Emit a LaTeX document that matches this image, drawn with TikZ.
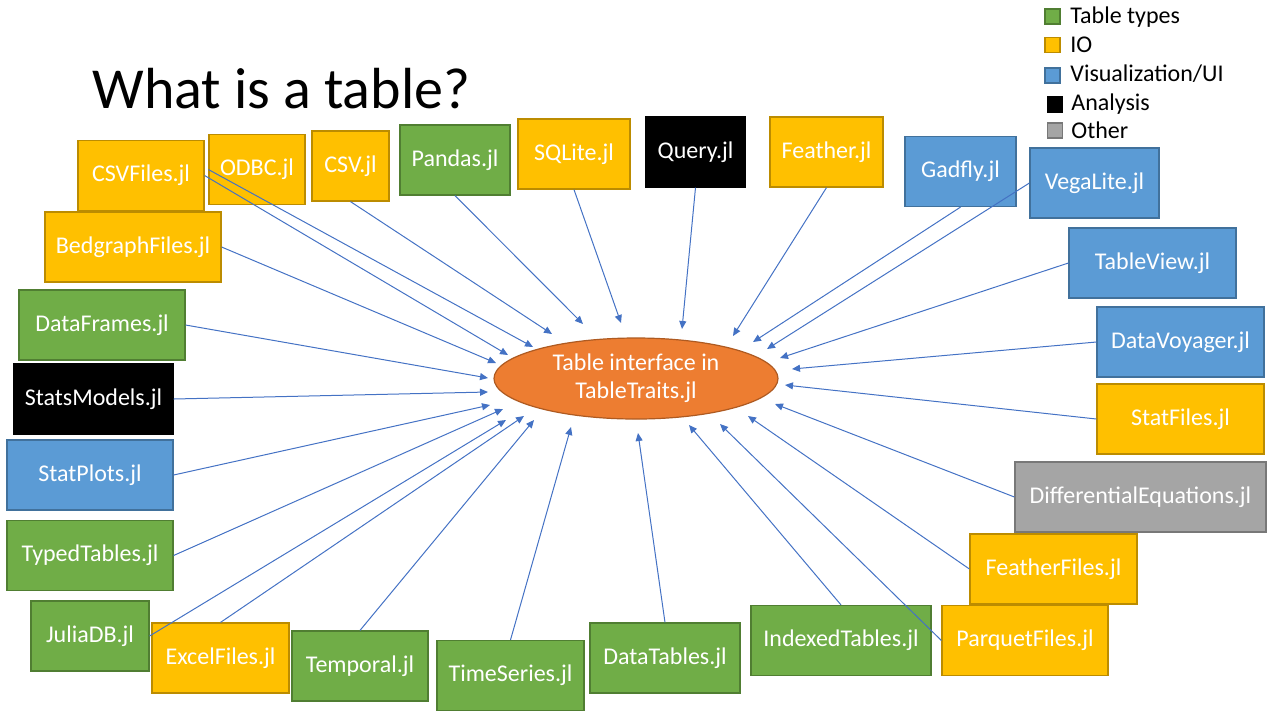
\documentclass[tikz,border=0pt]{standalone}
\usepackage{fontspec}
\setmainfont{Carlito}
\usetikzlibrary{arrows.meta,shapes.geometric}
\definecolor{tgreen}{HTML}{70AD47}
\definecolor{tgreenline}{HTML}{507E32}
\definecolor{tgold}{HTML}{FFC000}
\definecolor{tgoldline}{HTML}{BC8C00}
\definecolor{tblue}{HTML}{5B9BD5}
\definecolor{tblueline}{HTML}{41719C}
\definecolor{tgray}{HTML}{A5A5A5}
\definecolor{tgrayline}{HTML}{787878}
\definecolor{torange}{HTML}{ED7D31}
\definecolor{torangeline}{HTML}{AE5A21}
\definecolor{tlink}{HTML}{4472C4}
\tikzset{
  pkgnode/.style = {rectangle, align=center, inner sep=0pt, text=white,
    minimum height=35pt, line width=0.6pt, font=\fontsize{12}{14}\selectfont},
  pkg_t/.style = {pkgnode, fill=tgreen, draw=tgreenline},% table types, green
  pkg_io/.style = {pkgnode, fill=tgold, draw=tgoldline},% IO, gold
  pkg_v/.style = {pkgnode, fill=tblue, draw=tblueline},% visualization/UI, blue
  pkg_a/.style = {pkgnode, fill=black, draw=black},% analysis, black
  pkg_o/.style = {pkgnode, fill=tgray, draw=tgrayline},% other, gray
  hub/.style = {ellipse, align=center, inner sep=0pt, text=white,
    fill=torange, draw=torangeline, line width=0.6pt,
    minimum width=142pt, minimum height=40.5pt,
    font=\fontsize{12}{14}\selectfont},% the interface
  key/.style = {rectangle, inner sep=0pt, minimum size=7.5pt, line width=0.6pt},
  keytext/.style = {anchor=base west, inner sep=0pt,
    font=\fontsize{12}{14}\selectfont},
  feed/.style = {->, draw=tlink, line width=0.5pt}
}

\begin{document}
\begin{tikzpicture}[x=0.5pt,y=-0.5pt,>={Triangle[length=4pt,width=3.5pt]}]
\useasboundingbox (0,0) rectangle (1280,720);

% title
\node[anchor=base west, inner sep=0pt, font=\fontsize{29}{35}\selectfont]
  (title) at (92,108) {What is a table?};

% legend
\node[key, fill=tgreen, draw=tgreenline] (k_t) at (1052.5,16.5) {};
\node[key, fill=tgold, draw=tgoldline] (k_io) at (1052.5,45) {};
\node[key, fill=tblue, draw=tblueline] (k_v) at (1052.5,75.5) {};
\node[key, fill=black, draw=black] (k_a) at (1055,104.5) {};
\node[key, fill=tgray, draw=tgrayline] (k_o) at (1055,130.5) {};
\node[keytext] (l_t) at (1070,23) {Table types};
\node[keytext] (l_io) at (1070,52) {IO};
\node[keytext] (l_v) at (1070,81) {Visualization/UI};
\node[keytext] (l_a) at (1071,110) {Analysis};
\node[keytext] (l_o) at (1071,138) {Other};

% the interface
\node[hub] (tt) at (636,378.5) {Table interface in\\TableTraits.jl};

% packages
\node[pkg_io, minimum width=63pt] (csvfiles) at (141,175.5) {CSVFiles.jl};
\node[pkg_io, minimum width=48pt] (odbc) at (257,169.5) {ODBC.jl};
\node[pkg_io, minimum width=38.5pt] (csv) at (350.5,166) {CSV.jl};
\node[pkg_t, minimum width=55pt] (pandas) at (455,160) {Pandas.jl};
\node[pkg_io, minimum width=56pt] (sqlite) at (574,154) {SQLite.jl};
\node[pkg_a, minimum width=49.5pt] (query) at (695.5,152) {Query.jl};
\node[pkg_io, minimum width=56.5pt] (feather) at (826.5,152) {Feather.jl};
\node[pkg_v, minimum width=55.5pt] (gadfly) at (960.5,171.5) {Gadfly.jl};
\node[pkg_v, minimum width=64.5pt] (vegalite) at (1094.5,183) {VegaLite.jl};
\node[pkg_v, minimum width=83.5pt] (tableview) at (1152.5,263) {TableView.jl};
\node[pkg_v, minimum width=83.5pt] (datavoyager) at (1180.5,342) {DataVoyager.jl};
\node[pkg_io, minimum width=83.5pt] (statfiles) at (1180.5,419) {StatFiles.jl};
\node[pkg_o, minimum width=125.5pt] (diffeq) at (1140.5,497) {DifferentialEquations.jl};
\node[pkg_io, minimum width=83.5pt] (featherfiles) at (1053.5,569) {FeatherFiles.jl};
\node[pkg_io, minimum width=83pt] (parquetfiles) at (1025,640.5) {ParquetFiles.jl};
\node[pkg_t, minimum width=90pt] (indexedtables) at (841,640.5) {IndexedTables.jl};
\node[pkg_t, minimum width=75pt] (datatables) at (665,658) {DataTables.jl};
\node[pkg_t, minimum width=73.5pt] (timeseries) at (510.5,675.5) {TimeSeries.jl};
\node[pkg_t, minimum width=68pt] (temporal) at (360,666) {Temporal.jl};
\node[pkg_io, minimum width=68.5pt] (excelfiles) at (220.5,658) {ExcelFiles.jl};
\node[pkg_t, minimum width=59pt] (juliadb) at (90,636) {JuliaDB.jl};
\node[pkg_t, minimum width=83pt] (typedtables) at (90,555.5) {TypedTables.jl};
\node[pkg_v, minimum width=83pt] (statplots) at (90,475) {StatPlots.jl};
\node[pkg_a, minimum width=79.5pt] (statsmodels) at (93.5,399) {StatsModels.jl};
\node[pkg_t, minimum width=83pt] (dataframes) at (102,325) {DataFrames.jl};
\node[pkg_io, minimum width=88pt] (bedgraphfiles) at (133,247) {BedgraphFiles.jl};

% links into the interface
\foreach \src/\anc/\tx/\ty in {
    csvfiles/east/508/355, odbc/west/533/347, csv/south/552/334,
    pandas/south/583/324, sqlite/south/621/323, query/south/682/329,
    feather/south/733/336, gadfly/south/753/342, vegalite/west/767/349,
    tableview/west/780/358, datavoyager/west/792/369, statfiles/west/785/385,
    diffeq/west/775/404, featherfiles/west/748/416, parquetfiles/west/720/424,
    indexedtables/north/689/425, datatables/north/638/433,
    timeseries/north/571/427, temporal/north/534/420,
    excelfiles/north/524/416, juliadb/east/506/420,
    typedtables/east/503/409, statplots/east/490/405,
    statsmodels/east/488/392, dataframes/east/488/378,
    bedgraphfiles/east/496/363}{
  \coordinate (\src_tip) at (\tx,\ty);
  \draw[feed] (\src.\anc) -- (\src_tip);
}
\end{tikzpicture}
\end{document}
